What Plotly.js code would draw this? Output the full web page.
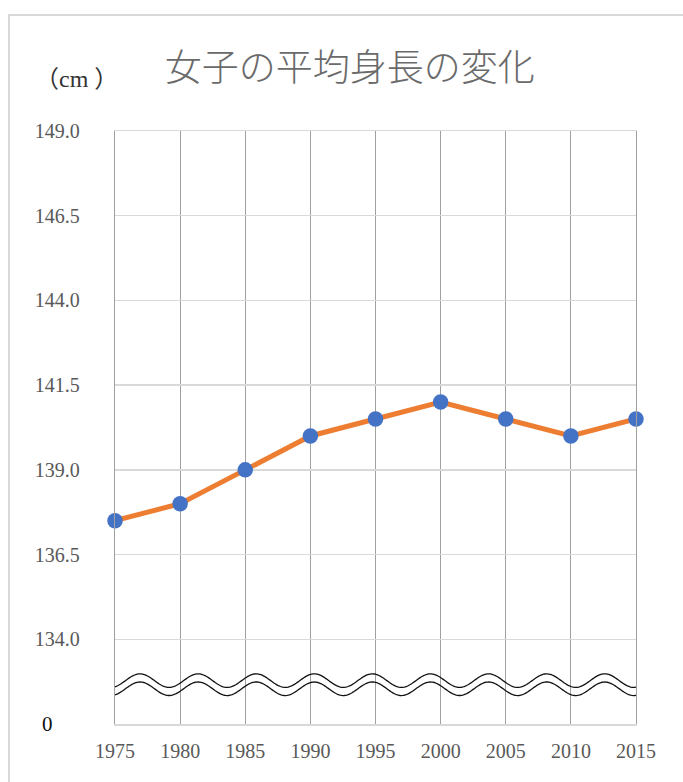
<!DOCTYPE html>
<html>
<head>
<meta charset="utf-8">
<script src="https://cdn.plot.ly/plotly-3.0.1.min.js"></script>
<style>
html,body{margin:0;padding:0;background:#fff;}
#frame{position:absolute;left:8px;top:14px;width:800px;height:900px;border-left:2px solid #d9d9d9;border-top:2px solid #d9d9d9;}
#chart{position:absolute;left:0;top:0;width:683px;height:782px;}
</style>
</head>
<body>
<div id="frame"></div>
<div id="chart"></div>
<script>
// Data
const years = [1975, 1980, 1985, 1990, 1995, 2000, 2005, 2010, 2015];
const heights = [137.5, 138.0, 139.0, 140.0, 140.5, 141.0, 140.5, 140.0, 140.5];
const yTickVals = [131.5, 134.0, 136.5, 139.0, 141.5, 144.0, 146.5, 149.0];
const yTickText = ["", "134.0", "136.5", "139.0", "141.5", "144.0", "146.5", "149.0"];
const titleText = "女子の平均身長の変化";
const unitText = "（cm ）";
const breakLabel = "0";

// Axis-break wave decoration (two parallel wavy lines)
function wavePath(center) {
  const amp = 0.2, period = 4.46, phase = 1976.92;
  let d = "";
  const n = 400;
  for (let i = 0; i <= n; i++) {
    const x = 1975 + 40 * i / n;
    const y = center + amp * Math.cos(2 * Math.PI * (x - phase) / period);
    d += (i === 0 ? "M" : "L") + x.toFixed(4) + "," + y.toFixed(4) + " ";
  }
  return d;
}

const font = "'Liberation Serif', 'Noto Sans CJK JP', serif";

const trace = {
  x: years, y: heights, type: "scatter", mode: "lines+markers",
  line: {color: "#ED7D31", width: 5},
  marker: {color: "#4472C4", size: 15.5},
  cliponaxis: false, showlegend: false, hoverinfo: "x+y"
};

const layout = {
  width: 683, height: 782,
  margin: {l: 115, r: 47, t: 131, b: 58},
  paper_bgcolor: "rgba(0,0,0,0)", plot_bgcolor: "rgba(0,0,0,0)",
  font: {family: font, color: "#595959"},
  title: {
    text: titleText, xref: "container", yref: "container",
    x: 0.512, y: 0.913, xanchor: "center", yanchor: "middle",
    font: {family: "'Noto Sans CJK JP', sans-serif", size: 37, color: "#6a6a6a", weight: 300}
  },
  xaxis: {
    range: [1975, 2015], tickvals: years, ticktext: years.map(String),
    showgrid: true, gridcolor: "#a0a0a0", gridwidth: 1.2,
    zeroline: false, showline: true, mirror: true, linecolor: "#d9d9d9", linewidth: 1.5, ticks: "",
    tickfont: {family: font, size: 20, color: "#595959"}, ticklabelstandoff: 8
  },
  yaxis: {
    range: [131.5, 149], tickvals: yTickVals, ticktext: yTickText,
    showgrid: true, gridcolor: "#d9d9d9", gridwidth: 1.5,
    zeroline: false, showline: true, mirror: true, linecolor: "#a0a0a0", linewidth: 1.2, ticks: "",
    tickfont: {family: font, size: 20, color: "#595959"}, ticklabelstandoff: 30
  },
  shapes: [
    {type: "path", xref: "x", yref: "y", path: wavePath(132.78), line: {color: "#111", width: 1.3}},
    {type: "path", xref: "x", yref: "y", path: wavePath(132.54), line: {color: "#111", width: 1.3}}
  ],
  annotations: [
    {text: unitText, xref: "paper", yref: "paper", x: -0.073, y: 1.088,
     xanchor: "center", yanchor: "middle", showarrow: false,
     font: {family: font, size: 24, color: "#333"}},
    {text: breakLabel, xref: "paper", yref: "y", x: -0.129, y: 131.5,
     xanchor: "center", yanchor: "middle", showarrow: false,
     font: {family: font, size: 21, color: "#111"}}
  ]
};

Plotly.newPlot("chart", [trace], layout, {displayModeBar: false, staticPlot: true});
</script>
</body>
</html>
